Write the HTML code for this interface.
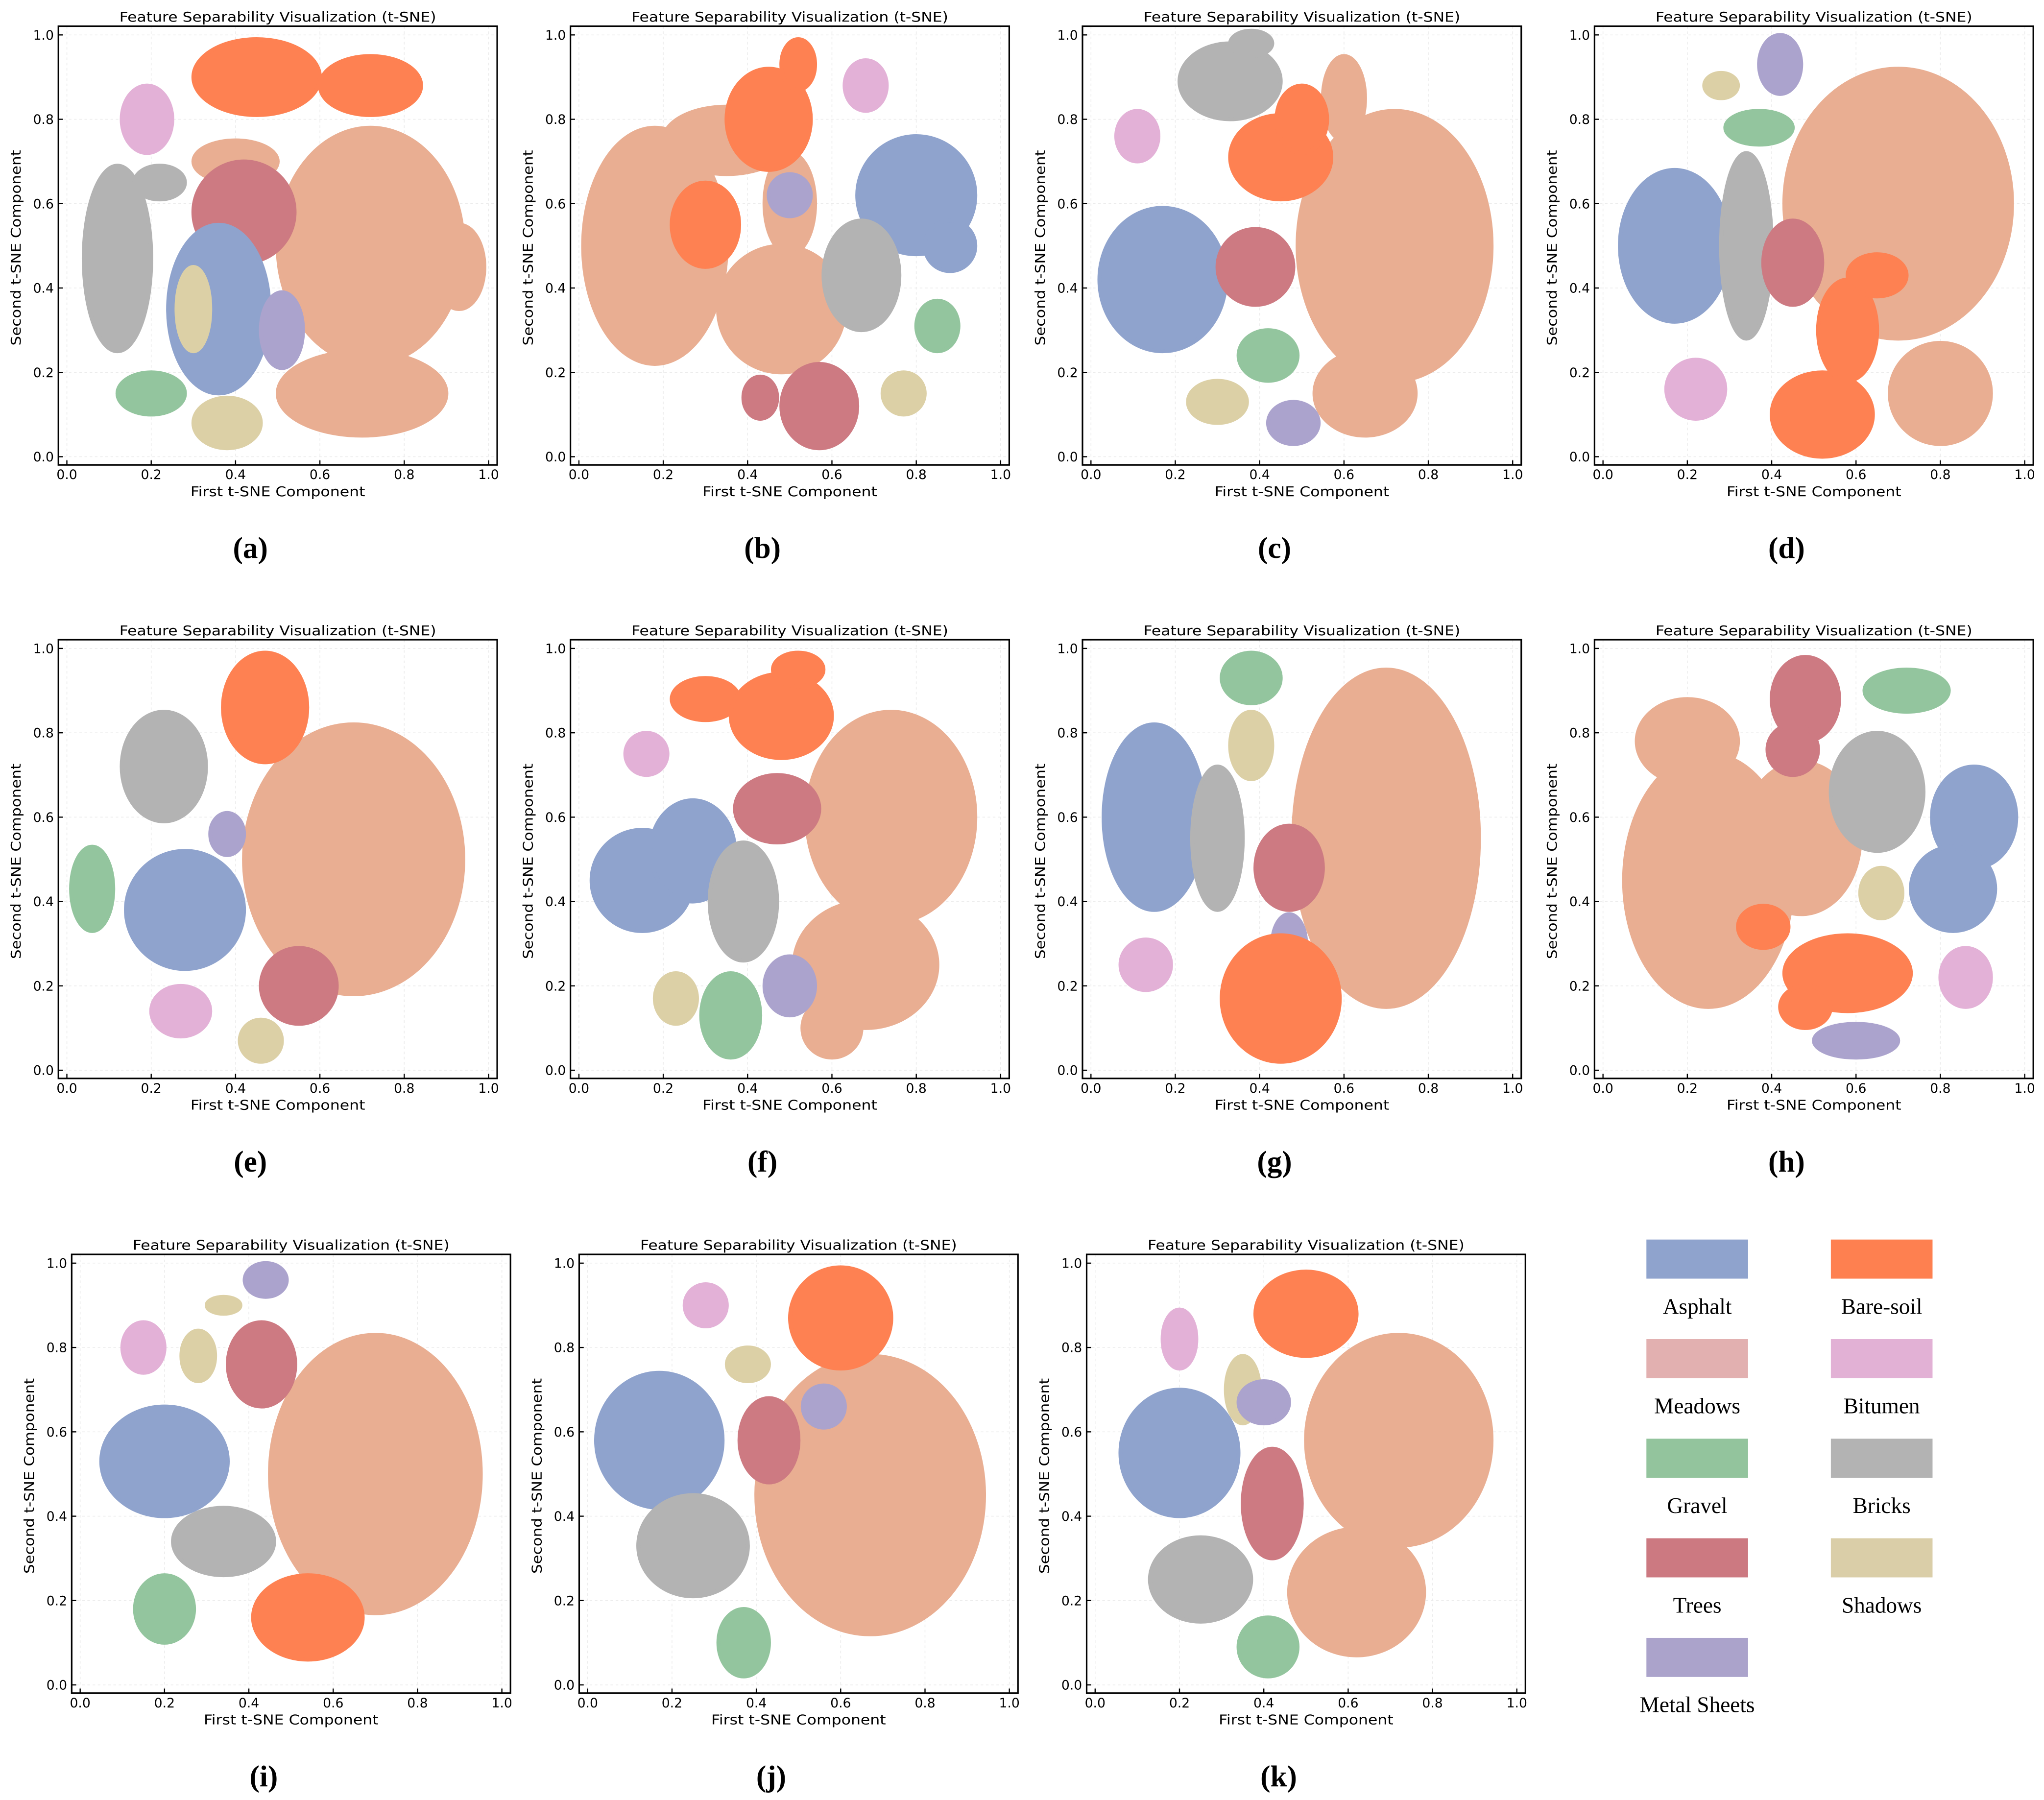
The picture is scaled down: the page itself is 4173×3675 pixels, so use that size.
<!DOCTYPE html>
<html><head><meta charset="utf-8"><style>
html,body{margin:0;padding:0;background:#fff;}
svg{display:block;}
text{font-family:"DejaVu Sans","Liberation Sans",sans-serif;}
.serif{font-family:"Liberation Serif","DejaVu Serif",serif;}
</style></head><body>
<svg id="fig" xmlns="http://www.w3.org/2000/svg" width="4173" height="3675" viewBox="0 0 1568 1381" preserveAspectRatio="none">
<rect x="0" y="0" width="1568" height="1381" fill="#fff"/>
<g id="panels"></g>
<g id="legend"></g>
</svg>
<script>
// Class names and colours
const classNames = ["Asphalt","Meadows","Gravel","Trees","Metal Sheets","Bare-soil","Bitumen","Bricks","Shadows"];
const classColors = ["#8fa3cd","#e9ae92","#93c59e","#cd7a82","#aba3cd","#fe8152","#e3b1d7","#b3b3b3","#dcd0a6"];
const tickValues = [0.0,0.2,0.4,0.6,0.8,1.0];
const tickLabels = ["0.0","0.2","0.4","0.6","0.8","1.0"];
const panelLabels = ["(a)","(b)","(c)","(d)","(e)","(f)","(g)","(h)","(i)","(j)","(k)"];
// cluster blobs per panel: [class, cx, cy, rx, ry] in data units
const clustersA = [[1,0.72,0.5,0.22,0.28],[1,0.7,0.15,0.2,0.1],[1,0.93,0.45,0.06,0.1],[1,0.4,0.7,0.1,0.05],[5,0.45,0.9,0.15,0.09],[5,0.72,0.88,0.12,0.07],[3,0.42,0.58,0.12,0.12],[6,0.19,0.8,0.06,0.08],[7,0.12,0.47,0.08,0.22],[7,0.22,0.65,0.06,0.04],[2,0.2,0.15,0.08,0.05],[0,0.36,0.35,0.12,0.2],[4,0.51,0.3,0.05,0.09],[8,0.38,0.08,0.08,0.06],[8,0.3,0.35,0.04,0.1]];
const clustersB = [[1,0.18,0.5,0.17,0.28],[1,0.48,0.35,0.15,0.15],[1,0.35,0.75,0.15,0.08],[1,0.5,0.6,0.06,0.12],[5,0.45,0.8,0.1,0.12],[5,0.3,0.55,0.08,0.1],[5,0.52,0.93,0.04,0.06],[6,0.68,0.88,0.05,0.06],[0,0.8,0.62,0.14,0.14],[0,0.88,0.5,0.06,0.06],[4,0.5,0.62,0.05,0.05],[7,0.67,0.43,0.09,0.13],[2,0.85,0.31,0.05,0.06],[3,0.57,0.12,0.09,0.1],[3,0.43,0.14,0.04,0.05],[8,0.77,0.15,0.05,0.05]];
const clustersC = [[1,0.72,0.5,0.23,0.32],[1,0.6,0.85,0.05,0.1],[1,0.65,0.15,0.12,0.1],[7,0.33,0.89,0.12,0.09],[7,0.38,0.98,0.05,0.03],[6,0.11,0.76,0.05,0.06],[5,0.45,0.71,0.12,0.1],[5,0.5,0.8,0.06,0.08],[0,0.17,0.42,0.15,0.17],[3,0.39,0.45,0.09,0.09],[2,0.42,0.24,0.07,0.06],[8,0.3,0.13,0.07,0.05],[4,0.48,0.08,0.06,0.05]];
const clustersD = [[1,0.7,0.6,0.27,0.32],[1,0.8,0.15,0.12,0.12],[4,0.42,0.93,0.05,0.07],[8,0.28,0.88,0.04,0.03],[2,0.37,0.78,0.08,0.04],[0,0.17,0.5,0.13,0.18],[7,0.34,0.5,0.06,0.22],[3,0.45,0.46,0.07,0.1],[5,0.52,0.1,0.12,0.1],[5,0.58,0.3,0.07,0.12],[5,0.65,0.43,0.07,0.05],[6,0.22,0.16,0.07,0.07]];
const clustersE = [[1,0.68,0.5,0.26,0.32],[5,0.47,0.86,0.1,0.13],[7,0.23,0.72,0.1,0.13],[2,0.06,0.43,0.05,0.1],[0,0.28,0.38,0.14,0.14],[4,0.38,0.56,0.04,0.05],[3,0.55,0.2,0.09,0.09],[6,0.27,0.14,0.07,0.06],[8,0.46,0.07,0.05,0.05]];
const clustersF = [[1,0.74,0.6,0.2,0.25],[1,0.68,0.25,0.17,0.15],[1,0.6,0.1,0.07,0.07],[5,0.3,0.88,0.08,0.05],[5,0.48,0.84,0.12,0.1],[5,0.52,0.95,0.06,0.04],[6,0.16,0.75,0.05,0.05],[3,0.47,0.62,0.1,0.08],[0,0.15,0.45,0.12,0.12],[0,0.27,0.52,0.1,0.12],[7,0.39,0.4,0.08,0.14],[8,0.23,0.17,0.05,0.06],[2,0.36,0.13,0.07,0.1],[4,0.5,0.2,0.06,0.07]];
const clustersG = [[1,0.7,0.55,0.22,0.4],[2,0.38,0.93,0.07,0.06],[8,0.38,0.77,0.05,0.08],[0,0.15,0.6,0.12,0.22],[7,0.3,0.55,0.06,0.17],[3,0.47,0.48,0.08,0.1],[4,0.47,0.3,0.04,0.07],[5,0.45,0.17,0.14,0.15],[6,0.13,0.25,0.06,0.06]];
const clustersH = [[1,0.25,0.45,0.2,0.3],[1,0.2,0.78,0.12,0.1],[1,0.47,0.55,0.14,0.18],[3,0.48,0.88,0.08,0.1],[3,0.45,0.76,0.06,0.06],[2,0.72,0.9,0.1,0.05],[7,0.65,0.66,0.11,0.14],[0,0.88,0.6,0.1,0.12],[0,0.83,0.43,0.1,0.1],[8,0.66,0.42,0.05,0.06],[5,0.58,0.23,0.15,0.09],[5,0.48,0.15,0.06,0.05],[5,0.38,0.34,0.06,0.05],[6,0.86,0.22,0.06,0.07],[4,0.6,0.07,0.1,0.04]];
const clustersI = [[1,0.7,0.5,0.25,0.33],[4,0.44,0.96,0.05,0.04],[8,0.34,0.9,0.04,0.02],[8,0.28,0.78,0.04,0.06],[6,0.15,0.8,0.05,0.06],[3,0.43,0.76,0.08,0.1],[0,0.2,0.53,0.15,0.13],[7,0.34,0.34,0.12,0.08],[2,0.2,0.18,0.07,0.08],[5,0.54,0.16,0.13,0.1]];
const clustersJ = [[1,0.67,0.45,0.27,0.33],[6,0.28,0.9,0.05,0.05],[5,0.6,0.87,0.12,0.12],[8,0.38,0.76,0.05,0.04],[0,0.17,0.58,0.15,0.16],[3,0.43,0.58,0.07,0.1],[4,0.56,0.66,0.05,0.05],[7,0.25,0.33,0.13,0.12],[2,0.37,0.1,0.06,0.08]];
const clustersK = [[1,0.72,0.58,0.22,0.25],[1,0.62,0.22,0.16,0.15],[5,0.5,0.88,0.12,0.1],[6,0.2,0.82,0.04,0.07],[8,0.35,0.7,0.04,0.08],[4,0.4,0.67,0.06,0.05],[0,0.2,0.55,0.14,0.15],[3,0.42,0.43,0.07,0.13],[7,0.25,0.25,0.12,0.1],[2,0.41,0.09,0.07,0.07]];
const allClusters = [clustersA,clustersB,clustersC,clustersD,clustersE,clustersF,clustersG,clustersH,clustersI,clustersJ,clustersK];

const NS = "http://www.w3.org/2000/svg";
function mk(tag, attrs, parent){ const e=document.createElementNS(NS,tag); for(const k in attrs) e.setAttribute(k,attrs[k]); if(parent) parent.appendChild(e); return e; }
const lefts=[44.8,437.6,830.4,1223.2];
const origins=[];
for(let r=0;r<2;r++) for(let c=0;c<4;c++) origins.push([lefts[c], r===0?20.1:490.8]);
origins.push([55,962.4]); origins.push([444.3,962.4]); origins.push([833.6,962.4]);
const BW=336.6, BH=336.6;
const panelsG=document.getElementById('panels');

allClusters.forEach((clusters,pi)=>{
  const [L,T]=origins[pi];
  const sx=v=>L+6.5+v*323.5;
  const sy=v=>T+330.3-v*323.6;
  const g=mk('g',{},panelsG);
  
  
  // grid
  tickValues.forEach(v=>{
    const gl=mk('line',{x1:sx(v),x2:sx(v),y1:T,y2:T+BH,stroke:'#ececec','stroke-width':0.6,'stroke-dasharray':'2,2'},g);
     
    const gl2=mk('line',{y1:sy(v),y2:sy(v),x1:L,x2:L+BW,stroke:'#ececec','stroke-width':0.6,'stroke-dasharray':'2,2'},g);
     
  });
  // clusters
  const cg=mk('g',{},g);
   
  clusters.forEach(b=>{
    const [c,cx,cy,rx,ry]=b;
    const e=mk('ellipse',{cx:sx(cx),cy:sy(cy),rx:rx*323.5,ry:ry*323.6,fill:classColors[c],stroke:classColors[c],'stroke-width':3},cg);
    
    
  });
  // frame
  const fr=mk('rect',{x:L,y:T,width:BW,height:BH,fill:'none',stroke:'#000','stroke-width':1.2},g);
   
  // ticks
  tickValues.forEach((v,i)=>{
    const t1=mk('line',{x1:sx(v),x2:sx(v),y1:T+BH,y2:T+BH-3.5,stroke:'#000','stroke-width':0.9},g);
     
    const t2=mk('line',{x1:L,x2:L+3.5,y1:sy(v),y2:sy(v),stroke:'#000','stroke-width':0.9},g);
     
    const xl=mk('text',{x:sx(v),y:T+347.5,'font-size':10,'text-anchor':'middle',fill:'#000'},g);
    xl.textContent=tickLabels[i];
     
    const yl=mk('text',{x:L-3.5,y:sy(v)+3.6,'font-size':10,'text-anchor':'end',fill:'#000'},g);
    yl.textContent=tickLabels[i];
     
  });
  const tt=mk('text',{x:L+BW/2,y:T-3.5,'font-size':10.5,'text-anchor':'middle',textLength:243,lengthAdjust:'spacingAndGlyphs',fill:'#000'},g);
  tt.textContent='Feature Separability Visualization (t-SNE)';
   
  const xt=mk('text',{x:L+BW/2,y:T+360.5,'font-size':10.5,'text-anchor':'middle',textLength:134,lengthAdjust:'spacingAndGlyphs',fill:'#000'},g);
  xt.textContent='First t-SNE Component';
   
  const yx=L-29, yy=T+170;
  const yt=mk('text',{x:yx,y:yy,'font-size':10.5,'text-anchor':'middle',textLength:150,lengthAdjust:'spacingAndGlyphs',transform:`rotate(-90 ${yx} ${yy})`,fill:'#000'},g);
  yt.textContent='Second t-SNE Component';
   
  const pl=mk('text',{x:L+BW/2-21,y:T+408,'font-size':23,'text-anchor':'middle','font-weight':'bold',class:'serif',fill:'#000'},g);
  pl.textContent=panelLabels[pi];
   
});

// legend
const legendOrder=[0,5,1,6,2,7,3,8,4];
const legendPatchColors={0:"#8fa3cd",5:"#fe8050",1:"#e2b0b0",6:"#e2b1d5",2:"#93c49d",7:"#b3b3b3",3:"#cc7981",8:"#dacea8",4:"#aba3cb"};
const lg=document.getElementById('legend');
legendOrder.forEach((c,i)=>{
  const col=i%2, row=Math.floor(i/2);
  const x=col===0?1263:1404.5, y=951+row*76.4;
  const r=mk('rect',{x:x,y:y,width:78,height:30,fill:legendPatchColors[c]},lg);
  
  
  const t=mk('text',{x:x+39,y:y+57,'font-size':17,'text-anchor':'middle',class:'serif',fill:'#000'},lg);
  t.textContent=classNames[c];
   
});
</script>
</body></html>
